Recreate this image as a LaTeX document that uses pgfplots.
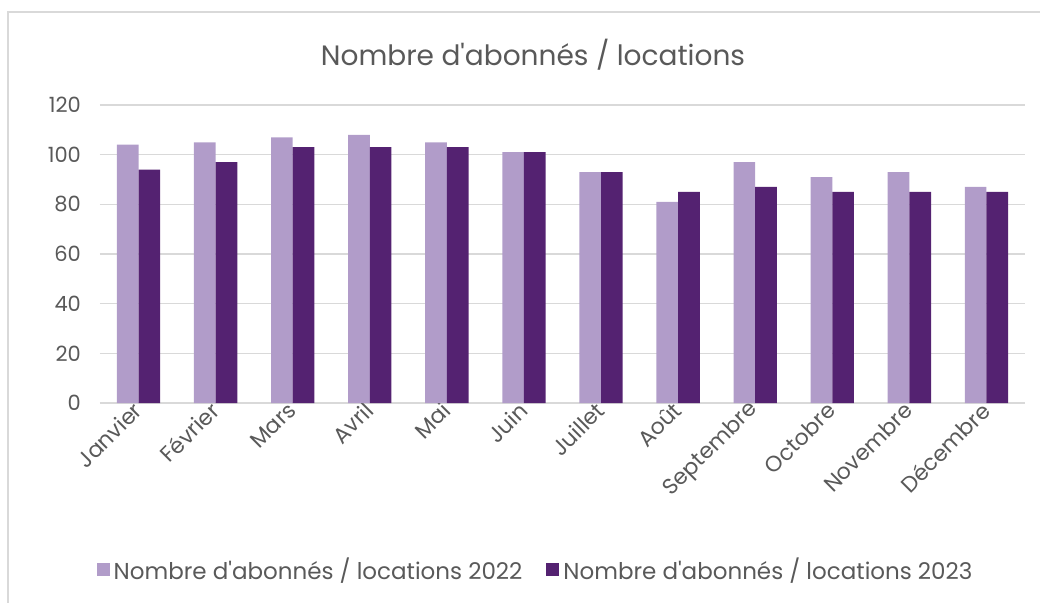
\documentclass[border=0pt]{standalone}
\usepackage{fontspec}
\setmainfont{Poppins}[Ligatures=TeXOff]
\usepackage{pgfplots}
\pgfplotsset{compat=1.18}
\definecolor{lightp}{HTML}{B19CC9}
\definecolor{darkp}{HTML}{542271}
\definecolor{txt}{HTML}{595959}
\definecolor{gridc}{HTML}{D9D9D9}
\begin{document}
\begin{tikzpicture}[x=1pt,y=1pt]
\useasboundingbox (0,0) rectangle (520,301);
\draw[gridc, line width=0.8pt] (4,-5) -- (4,295) -- (525,295);
\node[txt, font=\fontsize{14}{16}\selectfont] at (266.5,273.5) {Nombre d'abonnés / locations};
\begin{axis}[
  at={(50pt,99.5pt)}, anchor=south west,
  scale only axis, width=462.5pt, height=149pt,
  xmin=-0.5, xmax=11.5, ymin=0, ymax=120,
  ytick={0,20,...,120},
  xtick={0,...,11},
  xticklabels={Janvier,Février,Mars,Avril,Mai,Juin,Juillet,Août,Septembre,Octobre,Novembre,Décembre},
  ybar=0pt, bar width=10.85pt,
  axis line style={draw=none},
  axis x line*=bottom,
  x axis line style={draw=gridc, line width=0.8pt},
  xmajorgrids=false, ymajorgrids=true,
  major grid style={draw=gridc, line width=0.8pt},
  major tick length=0pt,
  tick label style={txt, font=\fontsize{10.5}{12}\selectfont},
  /pgf/number format/assume math mode=true,
  xticklabel style={rotate=45, anchor=east, xshift=2pt, yshift=-1pt, font=\fontsize{11}{12}\selectfont},
  yticklabel style={xshift=-6pt},
  legend style={at={(0.472,-0.56)}, anchor=center, draw=none, fill=none,
    font=\fontsize{11.5}{13}\selectfont, text=txt, legend columns=2,
    /tikz/every even column/.append style={column sep=10pt}},
  legend image code/.code={\fill[#1] (0pt,-3pt) rectangle (6.5pt,3.5pt);},
]
\addplot[draw=none, fill=lightp] coordinates {(0,104) (1,105) (2,107) (3,108) (4,105) (5,101) (6,93) (7,81) (8,97) (9,91) (10,93) (11,87)};
\addplot[draw=none, fill=darkp] coordinates {(0,94) (1,97) (2,103) (3,103) (4,103) (5,101) (6,93) (7,85) (8,87) (9,85) (10,85) (11,85)};
\legend{Nombre d'abonnés / locations 2022, Nombre d'abonnés / locations 2023}
\end{axis}
\end{tikzpicture}
\end{document}
